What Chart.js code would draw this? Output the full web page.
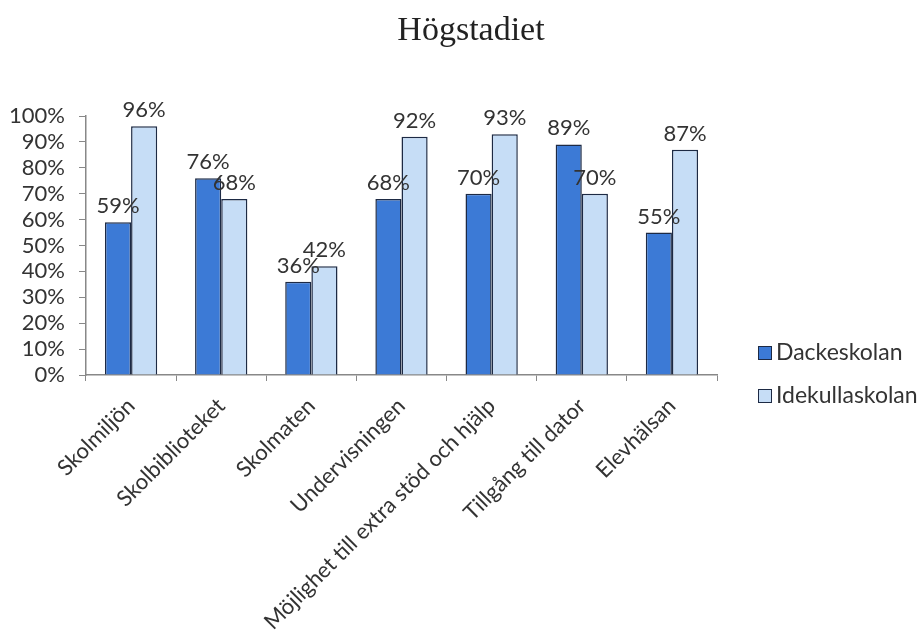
<!DOCTYPE html>
<html>
<head>
<meta charset="utf-8">
<script src="https://cdn.jsdelivr.net/npm/chart.js@4"></script>
<style>
    html, body { margin: 0; padding: 0; background: #fff; }
    #wrap { width: 921px; height: 638px; position: relative; }
</style>
</head>
<body>
<div id="wrap"><canvas id="chart" width="921" height="638"></canvas></div>
<script>
const titleText = "Högstadiet";
const categories = [
    "Skolmiljön",
    "Skolbiblioteket",
    "Skolmaten",
    "Undervisningen",
    "Möjlighet till extra stöd och hjälp",
    "Tillgång till dator",
    "Elevhälsan"
];
const seriesNames = ["Dackeskolan", "Idekullaskolan"];
const dackeskolan = [59, 76, 36, 68, 70, 89, 55];
const idekullaskolan = [96, 68, 42, 92, 93, 70, 87];

const FONT = "Lato, 'Open Sans', sans-serif";
const DARK = "#3c7ad6";
const LIGHT = "#c6ddf6";
const EDGE = "#1d2a44";

/* ------------------- Plugins ------------------ */

const valueLabels = {
    id: "valueLabels",
    afterDatasetsDraw(chart) {
        const ctx = chart.ctx;
        ctx.save();
        ctx.font = `22px ${FONT}`;
        ctx.fillStyle = "#333";
        ctx.textAlign = "center";
        ctx.textBaseline = "alphabetic";
        chart.data.datasets.forEach((ds, i) => {
            chart.getDatasetMeta(i).data.forEach((bar, j) => {
                ctx.fillText(ds.data[j] + "%", bar.x, bar.y - 9);
            });
        });
        ctx.restore();
    }
};

const titleAndLegend = {
    id: "titleAndLegend",
    afterDraw(chart) {
        const ctx = chart.ctx;
        ctx.save();
        ctx.font = "34px 'Liberation Serif', 'Times New Roman', serif";
        ctx.fillStyle = "#222";
        ctx.textAlign = "center";
        ctx.textBaseline = "alphabetic";
        ctx.fillText(titleText, 471, 40);

        ctx.font = `23px ${FONT}`;
        ctx.textAlign = "left";
        ctx.textBaseline = "middle";
        const rows = [353, 396];
        chart.data.datasets.forEach((ds, i) => {
            const y = rows[i];
            ctx.fillStyle = ds.backgroundColor;
            ctx.fillRect(758, y - 7, 14, 14);
            ctx.strokeStyle = EDGE;
            ctx.lineWidth = 1;
            ctx.strokeRect(758.5, y - 6.5, 13, 13);
            ctx.fillStyle = "#333";
            ctx.fillText(ds.label, 776, y);
        });
        ctx.restore();
    }
};

/* ------------------- Chart ------------------ */

new Chart(document.getElementById("chart"), {
    type: "bar",
    data: {
        labels: categories,
        datasets: [
            {
                label: seriesNames[0],
                data: dackeskolan,
                backgroundColor: DARK,
                borderColor: EDGE,
                borderWidth: 1.5
            },
            {
                label: seriesNames[1],
                data: idekullaskolan,
                backgroundColor: LIGHT,
                borderColor: EDGE,
                borderWidth: 1.5
            }
        ]
    },
    options: {
        responsive: false,
        animation: false,
        layout: { padding: { top: 116, right: 204, left: 0, bottom: 0 } },
        datasets: {
            bar: { categoryPercentage: 0.58, barPercentage: 1.0 }
        },
        plugins: {
            legend: { display: false },
            title: { display: false },
            tooltip: { enabled: false }
        },
        scales: {
            x: {
                afterFit: (scale) => { scale.height = 263; },
                grid: { drawOnChartArea: false, offset: true, tickLength: 6, color: "#888" },
                border: { color: "#888", width: 1.5 },
                ticks: {
                    font: { family: FONT, size: 22 },
                    color: "#333",
                    minRotation: 45,
                    maxRotation: 45,
                    padding: 12,
                    autoSkip: false
                }
            },
            y: {
                min: 0,
                max: 100,
                afterFit: (scale) => { scale.width = 86; },
                grid: { drawOnChartArea: false, tickLength: 7, color: "#888" },
                border: { color: "#888", width: 1.5 },
                ticks: {
                    stepSize: 10,
                    autoSkip: false,
                    font: { family: FONT, size: 22 },
                    color: "#333",
                    padding: 14,
                    callback: (v) => v + "%"
                }
            }
        }
    },
    plugins: [valueLabels, titleAndLegend]
});
</script>
</body>
</html>
